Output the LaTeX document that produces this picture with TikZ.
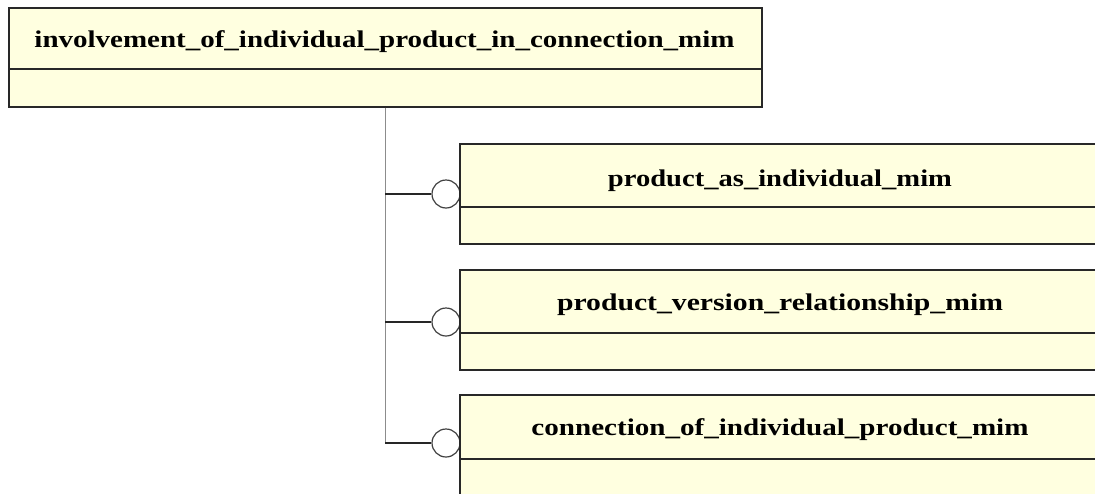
\documentclass[tikz,border=0pt]{standalone}
\usepackage{fontspec}
\setmainfont{Liberation Serif}
\usepackage{graphicx}
\definecolor{boxfill}{RGB}{255,255,224}
\definecolor{boxline}{RGB}{40,40,40}
\definecolor{treeline}{RGB}{140,140,140}
\tikzset{
  hdr/.style={draw=boxline, fill=boxfill, line width=1.6pt, rectangle, inner sep=0pt, anchor=north west},
  bdy/.style={draw=boxline, fill=boxfill, line width=1.6pt, rectangle, inner sep=0pt, anchor=north west},
  lbl/.style={anchor=base, inner sep=0pt, font=\fontsize{24}{26}\selectfont\bfseries},
  ring/.style={circle, draw=black!75, fill=white, line width=1.2pt, minimum size=28pt, inner sep=0pt},
  link/.style={draw=black!85, line width=1.5pt},
  trunk/.style={draw=treeline, line width=1.5pt}
}
\begin{document}
\begin{tikzpicture}[x=1pt,y=-1pt]
\useasboundingbox (0,0) rectangle (1095,493);
\clip (0,0) rectangle (1095,493);
% top entity
\node[hdr, minimum width=753pt, minimum height=61pt] (tH) at (8,7) {};
\node[bdy, minimum width=753pt, minimum height=38pt] (tB) at (8,68) {};
\node[lbl] (tT) at (384.5,47) {\resizebox{700pt}{\height}{involvement\_of\_individual\_product\_in\_connection\_mim}};
% circles
\node[ring] (c1) at (446,194) {};
\node[ring] (c2) at (446,322) {};
\node[ring] (c3) at (446,443) {};
% entity 2
\node[hdr, minimum width=642pt, minimum height=63pt] (aH) at (459,143) {};
\node[bdy, minimum width=642pt, minimum height=37pt] (aB) at (459,206) {};
\node[lbl] (aT) at (780,186) {\resizebox{344pt}{\height}{product\_as\_individual\_mim}};
% entity 3
\node[hdr, minimum width=642pt, minimum height=63pt] (bH) at (459,269) {};
\node[bdy, minimum width=642pt, minimum height=37pt] (bB) at (459,332) {};
\node[lbl] (bT) at (780,310) {\resizebox{446pt}{\height}{product\_version\_relationship\_mim}};
% entity 4
\node[hdr, minimum width=642pt, minimum height=64pt] (cH) at (459,394) {};
\node[bdy, minimum width=642pt, minimum height=40pt] (cB) at (459,458) {};
\node[lbl] (cT) at (780,435) {\resizebox{497pt}{\height}{connection\_of\_individual\_product\_mim}};
% connectors
\path[trunk] (tB.south) -- (tB.south |- c3.west);
\path[link] (tB.south |- c1.west) -- (c1.west);
\path[link] (tB.south |- c2.west) -- (c2.west);
\path[link] (tB.south |- c3.west) -- (c3.west);
\end{tikzpicture}
\end{document}
